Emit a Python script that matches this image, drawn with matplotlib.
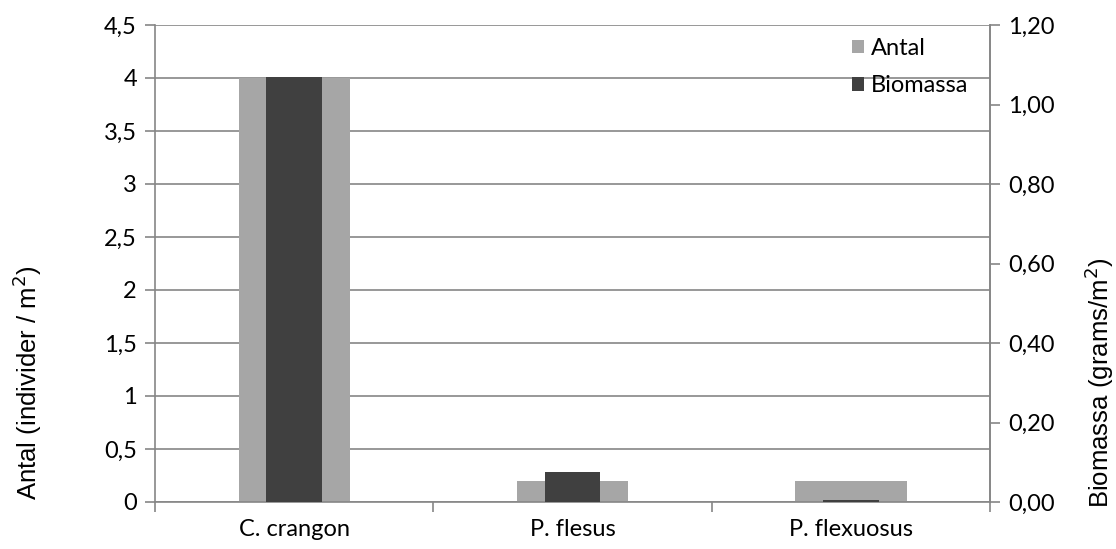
import matplotlib
matplotlib.use("Agg")
import matplotlib.pyplot as plt
import numpy as np
from matplotlib.ticker import FuncFormatter, FixedLocator

plt.rcParams['font.family'] = ['Lato', 'DejaVu Sans']

arter = ['C. crangon', 'P. flesus', 'P. flexuosus']
antal = [4.0, 0.2, 0.2]             # individer / m2
biomassa = [1.07, 0.075, 0.005]     # grams / m2

ljus = '#a6a6a6'
mork = '#404040'
linje = '#868686'
fs = 17

fig = plt.figure(figsize=(11.16, 5.49), dpi=100)
ax = fig.add_axes([155 / 1116, 47 / 549, 835 / 1116, 477 / 549])
x = np.arange(len(arter))

b1 = ax.bar(x, antal, width=0.4, color=ljus, zorder=2, label='Antal')
ax.set_xlim(-0.5, len(arter) - 0.5)
ax.set_ylim(0, 4.5)
ax.set_yticks(np.arange(0, 4.51, 0.5))
ax.yaxis.set_major_formatter(FuncFormatter(lambda v, p: f'{v:g}'.replace('.', ',')))
ax.yaxis.grid(True, color=linje, linewidth=1.2, zorder=0)
ax.set_axisbelow(True)

ax.set_xticks(x)
ax.set_xticklabels(arter, fontsize=fs)
ax.tick_params(axis='x', which='major', length=0, pad=12)
ax.xaxis.set_minor_locator(FixedLocator(np.arange(-0.5, len(arter), 1.0)))
ax.tick_params(axis='x', which='minor', length=7, width=1.2, color=linje)
ax.tick_params(axis='y', length=7, width=1.2, color=linje, labelsize=fs, pad=6)

ax.spines['top'].set_visible(False)
for s in ['left', 'bottom', 'right']:
    ax.spines[s].set_color(linje)
    ax.spines[s].set_linewidth(1.2)

ax2 = ax.twinx()
b2 = ax2.bar(x, biomassa, width=0.2, color=mork, zorder=3, label='Biomassa')
ax2.set_ylim(0, 1.2)
ax2.set_yticks(np.arange(0, 1.21, 0.2))
ax2.yaxis.set_major_formatter(FuncFormatter(lambda v, p: f'{v:.2f}'.replace('.', ',')))
ax2.tick_params(axis='y', length=7, width=1.2, color=linje, labelsize=fs, pad=6)
for s in ['top', 'left', 'bottom']:
    ax2.spines[s].set_visible(False)
ax2.spines['right'].set_color(linje)
ax2.spines['right'].set_linewidth(1.2)

# axeltitlar i Arial-liknande typsnitt
titel = dict(rotation=90, ha='center', va='center', fontsize=18.5,
             family=['Liberation Sans', 'DejaVu Sans'])
fig.text(27 / 1116, 1 - 383 / 549, 'Antal (individer / m$^2$)', **titel)
fig.text(1099 / 1116, 1 - 383 / 549, 'Biomassa (grams/m$^2$)', **titel)

fig.legend(handles=[b1, b2], loc='upper left', bbox_to_anchor=(840 / 1116, 1 - 26 / 549),
           frameon=False, fontsize=fs, handlelength=0.5, handleheight=0.5,
           handletextpad=0.3, labelspacing=0.7, borderpad=0)

fig.savefig('out.png', dpi=100)
